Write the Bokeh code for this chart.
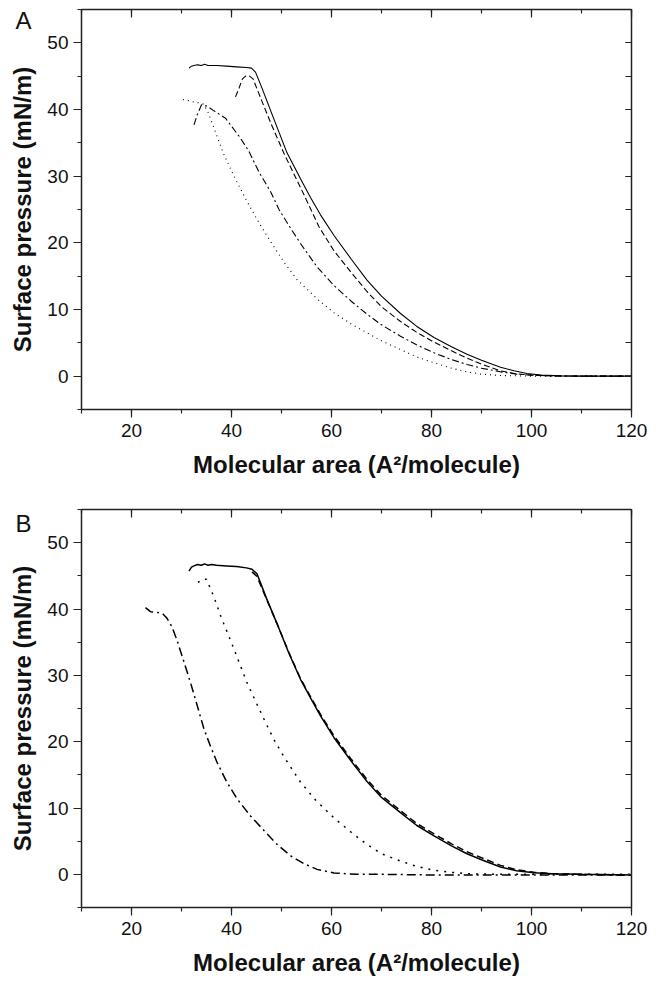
from bokeh.plotting import figure
from bokeh.models import Range1d, LinearAxis, SingleIntervalTicker, Label
from bokeh.layouts import column
from bokeh.embed import file_html
from bokeh.resources import INLINE

# ---------------- Panel A data ----------------
a_solid_x = [31.5, 32.0, 32.5, 33.2, 34.0, 34.6, 35.3, 36.0, 37.0, 39.0, 41.0, 43.0, 44.0, 44.8, 46.0, 48.0,
             51.1, 53.8, 55.8, 57.8, 60.5, 64.0, 67.1, 70.0, 73.8, 77.0, 80.5, 84.0, 87.1, 90.0,
             93.8, 96.5, 99.1, 102.0, 106.0, 110.0, 115.0, 120.0]
a_solid_y = [46.2, 46.5, 46.6, 46.7, 46.6, 46.8, 46.6, 46.6, 46.6, 46.5, 46.4, 46.3, 46.2, 45.6, 43.4, 39.5,
             33.5, 29.6, 26.8, 24.2, 21.1, 17.5, 14.4, 12.0, 9.4, 7.5, 5.8, 4.4, 3.3, 2.4,
             1.35, 0.8, 0.4, 0.15, 0.05, 0.0, 0.0, 0.0]

a_dash_x = [40.8, 41.5, 42.2, 42.8, 43.6, 44.3, 46.0, 48.0, 50.5, 54.5, 57.5, 60.5, 64.0, 67.1, 70.0,
            73.8, 77.0, 80.5, 84.0, 87.1, 90.0, 93.8, 97.0, 100.0, 104.0, 110.0, 120.0]
a_dash_y = [41.9, 43.2, 44.6, 45.0, 45.0, 44.6, 41.4, 37.7, 33.4, 27.2, 22.4, 18.8, 15.5, 12.7, 10.4,
            8.2, 6.6, 5.1, 3.8, 2.7, 1.8, 0.8, 0.35, 0.15, 0.05, 0.0, 0.0]

a_dashdot_x = [32.5, 33.2, 34.0, 35.1, 36.5, 38.8, 40.5, 41.8, 43.5, 45.5, 47.8, 49.5, 51.8, 53.8, 57.1,
               60.5, 64.0, 67.1, 70.0, 73.8, 77.0, 80.5, 84.0, 87.1, 90.0, 93.8, 97.0, 100.0, 104.0,
               110.0, 120.0]
a_dashdot_y = [37.7, 39.3, 40.7, 40.5, 39.8, 38.7, 37.0, 35.7, 33.7, 30.6, 27.7, 25.0, 22.2, 19.9, 16.4,
               13.6, 11.2, 9.3, 7.7, 6.0, 4.7, 3.5, 2.5, 1.75, 1.2, 0.65, 0.3, 0.15, 0.05,
               0.0, 0.0]

a_dot_x = [30.3, 31.5, 32.5, 33.5, 34.4, 35.3, 36.5, 38.5, 40.5, 43.1, 45.5, 47.8, 50.5, 53.1, 57.1,
           60.5, 64.0, 67.1, 70.0, 73.8, 77.0, 80.5, 84.0, 87.1, 90.0, 93.8, 97.0, 100.0, 110.0, 120.0]
a_dot_y = [41.5, 41.3, 41.1, 41.0, 40.8, 39.6, 37.2, 33.2, 30.0, 26.2, 23.0, 20.2, 17.1, 14.5, 11.6,
           9.5, 7.8, 6.5, 5.3, 4.0, 2.9, 2.0, 1.2, 0.65, 0.3, 0.1, 0.05, 0.0, 0.0, 0.0]

# ---------------- Panel B data ----------------
b_solid_x = [31.5, 32.0, 32.5, 33.2, 34.0, 34.6, 35.3, 36.0, 37.0, 39.0, 41.0, 43.0, 44.1, 45.1, 47.0,
             49.1, 51.5, 53.8, 55.8, 57.8, 60.5, 64.0, 67.1, 70.0, 73.8, 77.0, 80.5, 84.0, 87.1, 90.0,
             93.8, 97.0, 100.5, 104.0, 110.0, 120.0]
b_solid_y = [45.7, 46.3, 46.5, 46.7, 46.6, 46.8, 46.6, 46.7, 46.6, 46.5, 46.4, 46.2, 46.0, 45.3, 41.6,
             37.8, 33.3, 29.4, 26.6, 23.9, 20.6, 17.0, 14.0, 11.6, 9.3, 7.4, 5.8, 4.3, 3.1, 2.2,
             1.1, 0.55, 0.25, 0.1, 0.0, -0.1]

b_dash_x = [44.1, 45.1, 47.0, 49.1, 51.5, 53.8, 55.8, 57.8, 60.5, 64.0, 67.1, 70.0, 73.8, 77.0, 80.5,
            84.0, 87.1, 90.0, 93.8, 97.0, 100.5, 104.0, 110.0, 120.0]
b_dash_y = [45.6, 44.9, 41.5, 37.8, 33.4, 29.5, 26.8, 24.1, 20.9, 17.3, 14.3, 11.9, 9.6, 7.7, 6.1,
            4.6, 3.4, 2.5, 1.35, 0.7, 0.3, 0.1, 0.0, -0.15]

b_dot_x = [33.3, 34.2, 35.0, 36.5, 38.0, 39.8, 41.5, 43.1, 45.0, 46.8, 48.5, 50.5, 53.8, 56.8, 60.5,
           64.0, 67.1, 70.0, 73.8, 77.0, 80.5, 84.0, 87.0, 90.0, 95.0, 100.0, 110.0, 120.0]
b_dot_y = [44.0, 44.5, 44.5, 41.8, 38.6, 35.3, 32.0, 28.9, 25.8, 22.9, 20.3, 17.7, 13.9, 11.2, 8.5,
           6.3, 4.5, 3.1, 2.0, 1.2, 0.6, 0.3, 0.1, 0.05, 0.0, 0.0, 0.0, 0.0]

b_dashdot_x = [22.8, 23.8, 25.0, 26.1, 27.1, 28.1, 29.1, 30.8, 31.8, 33.2, 34.5, 35.8, 37.1, 39.0, 41.1,
               43.8, 46.5, 49.0, 51.8, 54.5, 57.1, 60.5, 65.0, 70.0, 80.0, 90.0, 100.0, 110.0, 120.0]
b_dashdot_y = [40.2, 39.6, 39.5, 39.4, 38.6, 37.3, 35.3, 31.3, 28.9, 25.3, 21.9, 19.3, 16.9, 14.0, 11.4,
               8.8, 6.6, 4.6, 2.8, 1.6, 0.75, 0.2, 0.0, 0.0, -0.1, -0.1, -0.1, -0.1, -0.1]

x_label = "Molecular area (A\u00b2/molecule)"
y_label = "Surface pressure (mN/m)"

FONT = "Liberation Sans"


def style_line(ax):
    ax.axis_line_width = 1.5
    ax.major_tick_line_width = 1.2
    ax.minor_tick_line_width = 1.2
    ax.axis_line_color = "#222222"
    ax.major_tick_line_color = "#222222"
    ax.minor_tick_line_color = "#222222"


def make_panel(letter, letter_y, height, border_top, border_bottom):
    p = figure(width=658, height=height, x_range=Range1d(10, 120), y_range=Range1d(-5, 55),
               output_backend="svg", toolbar_location=None,
               min_border_left=81, min_border_right=27,
               min_border_top=border_top, min_border_bottom=border_bottom)
    p.xgrid.visible = False
    p.ygrid.visible = False
    p.outline_line_color = None
    p.background_fill_color = "white"
    p.border_fill_color = "white"

    xa = p.xaxis[0]
    xa.ticker = SingleIntervalTicker(interval=20, num_minor_ticks=2)
    ya = p.yaxis[0]
    ya.ticker = SingleIntervalTicker(interval=10, num_minor_ticks=2)
    for ax in (xa, ya):
        ax.major_tick_out = 8
        ax.major_tick_in = 0
        ax.minor_tick_out = 4
        ax.minor_tick_in = 0
        style_line(ax)
        ax.major_label_text_font = FONT
        ax.major_label_text_font_size = "19px"
        ax.major_label_text_color = "#111111"
        ax.axis_label_text_font = FONT
        ax.axis_label_text_font_style = "bold"
        ax.axis_label_text_font_size = "24px"
        ax.axis_label_text_color = "#111111"
    xa.axis_label = x_label
    xa.major_label_standoff = 6
    xa.axis_label_standoff = 11
    ya.axis_label = y_label
    ya.major_label_standoff = 5
    ya.axis_label_standoff = 8

    top = LinearAxis(ticker=SingleIntervalTicker(interval=20, num_minor_ticks=2),
                     major_label_standoff=0, major_label_text_font_size="1px",
                     major_label_text_color=None,
                     major_tick_in=8, major_tick_out=0, minor_tick_in=4, minor_tick_out=0)
    right = LinearAxis(ticker=SingleIntervalTicker(interval=10, num_minor_ticks=2),
                       major_label_standoff=0, major_label_text_font_size="1px",
                       major_label_text_color=None,
                       major_tick_in=6, major_tick_out=0, minor_tick_in=6, minor_tick_out=0)
    style_line(top)
    style_line(right)
    p.add_layout(top, "above")
    p.add_layout(right, "right")

    # panel letter: kept in a side panel so it is not clipped to the frame,
    # positioned with the plot's own data scales (left of the y axis, near the top)
    lab = Label(x=-3.2, y=letter_y, text=letter,
                text_baseline="top", text_align="left", text_font=FONT,
                text_font_size="24px", text_color="#111111")
    p.add_layout(lab, "right")
    return p


pa = make_panel("A", 55.4, 500, 9, 91)
pa.line(a_solid_x, a_solid_y, line_color="black", line_width=1.1)
pa.line(a_dash_x, a_dash_y, line_color="black", line_width=1.1, line_dash="6 3")
pa.line(a_dashdot_x, a_dashdot_y, line_color="black", line_width=1.1, line_dash="7 3 2 3")
pa.line(a_dot_x, a_dot_y, line_color="black", line_width=1.1, line_dash="1 4")

pb = make_panel("B", 55.0, 478, 9, 68)
pb.line(b_solid_x, b_solid_y, line_color="black", line_width=1.5)
pb.line(b_dash_x, b_dash_y, line_color="black", line_width=1.5, line_dash="7 4")
pb.line(b_dot_x, b_dot_y, line_color="black", line_width=1.5, line_dash="2 6")
pb.line(b_dashdot_x, b_dashdot_y, line_color="black", line_width=1.5, line_dash="9 4 2 4")

layout = column(pa, pb)
open("out.html", "w").write(file_html(layout, INLINE))
